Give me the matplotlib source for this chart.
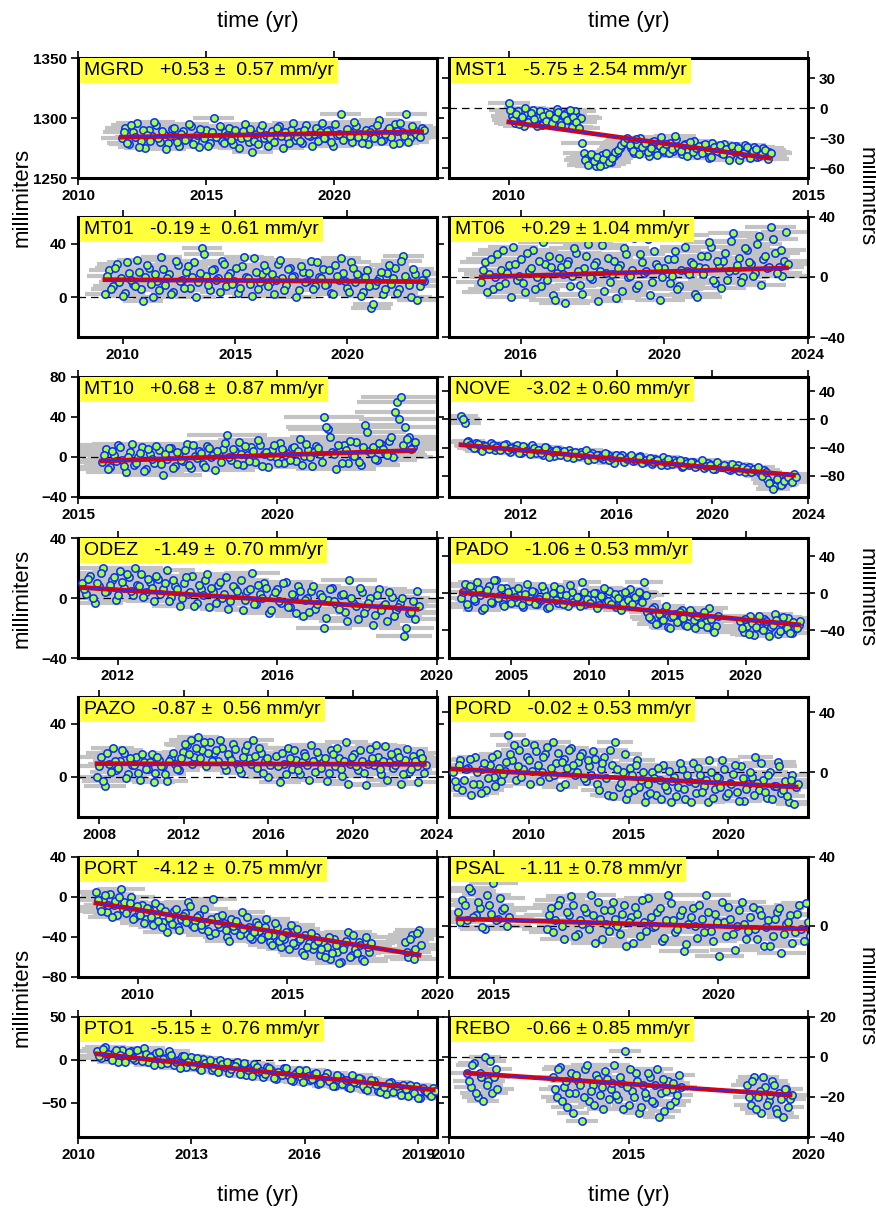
import numpy as np
import matplotlib.pyplot as plt

plt.rcParams['font.family'] = ['Liberation Sans', 'DejaVu Sans']
nan = np.nan

# station names, rates shown in the yellow boxes
stations = ['MGRD', 'MST1', 'MT01', 'MT06', 'MT10', 'NOVE', 'ODEZ',
            'PADO', 'PAZO', 'PORD', 'PORT', 'PSAL', 'PTO1', 'REBO']
rates = [0.53, -5.75, -0.19, 0.29, 0.68, -3.02, -1.49,
         -1.06, -0.87, -0.02, -4.12, -1.11, -5.15, -0.66]
rate_errs = [0.57, 2.54, 0.61, 1.04, 0.87, 0.60, 0.70,
             0.53, 0.56, 0.53, 0.75, 0.78, 0.76, 0.85]

# first / last epoch of each series (yr)
t_start = [2011.7, 2010.0, 2009.2, 2014.9, 2015.6, 2009.5, 2011.1,
           2001.8, 2007.9, 2006.2, 2008.6, 2014.2, 2010.5, 2010.5]
t_end = [2023.4, 2014.35, 2023.4, 2023.4, 2023.4, 2023.4, 2019.5,
         2023.4, 2023.4, 2023.4, 2019.4, 2022.0, 2019.4, 2019.5]
# fitted trend (mm) at first and last epoch
trend_start = [1284, -14, 13, 0, -4, -36, 7, 1, 10, 2, -6, 4, 7, -8]
trend_end = [1288.5, -50, 11.5, 6, 6.5, -79, -7.5, -34, 9.5, -10, -58, -2, -35, -19]
# half length of the grey time error bars (yr)
t_err = [0.8, 0.35, 0.9, 0.7, 1.0, 0.7, 0.7, 1.2, 1.0, 0.9, 0.8, 0.55, 0.55, 0.45]

# sampled positions (mm), two interleaved sets of epochs, nan = data gap
mgrd = [1283, 1292, 1278, 1288, 1296, 1281, 1275, 1290, 1285, 1294, 1280, 1287, 1279, 1291, 1284, 1277,
        1289, 1283, 1293, 1282, 1276, 1286, 1290, 1279, 1300, 1284, 1281, 1288, 1292, 1278, 1285, 1283,
        1295, 1280, 1272, 1287, 1291, 1283, 1277, 1289, 1286, 1293, 1275, 1284, 1290, 1282, 1288, 1279,
        1294, 1285, 1287, 1281, 1296, 1283, 1290, 1277, 1286, 1303, 1284, 1289, 1280, 1293, 1287, 1285,
        1278, 1291, 1286, 1298, 1282, 1289, 1284, 1295, 1279, 1288, 1303, 1283, 1290, 1286, 1292]
mgrd_b = [1288, 1279, 1294, 1284, 1276, 1290, 1286, 1281, 1297, 1283, 1289, 1274, 1285, 1292, 1280, 1287,
          1282, 1295, 1278, 1286, 1291, 1283, 1277, 1288, 1284, 1293, 1279, 1286, 1282, 1290, 1275, 1289,
          1284, 1291, 1281, 1278, 1294, 1286, 1283, 1280, 1292, 1285, 1288, 1279, 1296, 1284, 1281, 1290,
          1286, 1277, 1292, 1288, 1283, 1289, 1280, 1295, 1287, 1282, 1291, 1285, 1297, 1284, 1279, 1290,
          1288, 1283, 1294, 1281, 1287, 1292, 1278, 1289, 1296, 1285, 1280, 1293, 1287, 1284, 1290]
mst1 = [5, -8, -15, -3, -12, -18, -6, -10, -2, -14, -9, -17, -4, -11, -7, -16, -1, -13, -8, -5, -12, -19, -3, -9,
        -10, -45, -50, -55, -48, -58, -52, -47, -56, -50, -54, -48, -45, -40, -36, -33,
        -32, -40, -45, -36, -30, -42, -38, -48, -34, -41, -37, -29, -44, -39, -35, -43, -31, -40, -46, -36,
        -42, -38, -33, -47, -40, -37, -44, -50, -35, -41, -39, -45, -36, -43, -48, -40, -38, -52, -42, -37,
        -46, -41, -39, -49, -43, -40, -47, -44]
mst1_b = [-2, -12, -6, -16, -9, 0, -14, -5, -11, -18, -3, -8, -13, -6, -15, -10, -4, -17, -7, -12, -2, -9, -14, -20,
          -35, -52, -57, -46, -53, -49, -58, -51, -45, -54, -50, -44, -42, -37, -34, -30,
          -37, -43, -31, -46, -39, -35, -44, -40, -33, -47, -38, -42, -36, -45, -41, -28, -39, -43, -37, -48,
          -34, -44, -40, -38, -45, -36, -42, -49, -39, -43, -37, -46, -41, -52, -38, -44, -40, -47, -45, -39,
          -50, -43, -41, -48, -46, -42, -51, -45]
mt01 = [2, 20, 8, 25, 14, 3, 18, 10, 28, 6, 15, 22, 0, 12, 30, 9, 17, 4, 24, 13, 19, 7, 26, 11, 37, 16,
        5, 21, 14, 27, 8, 18, 12, 3, 23, 15, 10, 29, 6, 17, 20, 11, 2, 25, 14, 9, 22, 16, 5, 19, 12, 27,
        8, 15, 21, 10, 3, 24, 13, 18, 7, 26, 11, 16, 4, 20, -8, 9, 14, 2, 18, 10, 22, 6, 31, 13, 0, 17, 8, 12]
mt01_b = [16, 6, 22, 11, 1, 26, 13, 8, 19, -3, 24, 10, 17, 5, 21, 14, 2, 27, 12, 7,
          23, 15, 0, 18, 32, 9, 20, 13, 4, 25, 16, 10, 22, 7, 30, 14, 1, 19, 11, 24,
          8, 17, 13, 28, 5, 21, 15, 0, 23, 11, 18, 6, 26, 14, 9, 20, 2, 16, 29, 12,
          4, 22, 17, 1, 15, 8, -5, 12, 19, 6, 24, 14, 3, 27, 16, 9, 21, -2, 13, 18]
mt06 = [-3, 10, 2, -8, 15, 5, -4, 8, 20, -2, 12, -10, 4, 18, 0, -6, 9, 14, -12, 3, 7, -17, 11, 1, 16, -5,
        6, 22, -1, 10, 4, -9, 13, 2, -14, 8, 19, 0, 5, -7, 15, 3, 25, -3, 9, -15, 6, 12, 1, 17, -6, 28,
        4, 10, -11, 7, 2, 14, 20, -4, 8, 11, -2, 24, 5, 13, 0, 18, 9, 3, 27, 12, 6, 33, 16, 7, 1, 30]
mt06_b = [5, -10, 12, 0, -6, 18, 3, -13, 9, 1, -4, 16, 6, -8, 11, 23, -2, 7, -15, 13,
          2, 9, -6, 19, 4, -11, 14, 0, 8, -16, 21, 3, -3, 11, 6, -9, 15, 1, 26, -5,
          10, 4, -12, 17, 7, 0, 30, -4, 12, -8, 5, 20, 2, 9, -13, 14, 6, 23, -2, 11,
          -7, 16, 4, 29, 8, -3, 19, 10, 1, 22, -5, 14, 7, 25, 3, 18, 11, 9]
mt10 = [-5, 8, -10, 2, 12, -3, -15, 5, -8, 0, 10, -12, 3, -6, 7, -18, -2, 9, -9, 4, -4, 13, -11, 1, 6, -7,
        11, 0, -13, 5, 8, 22, -3, 6, 15, -8, 2, 10, -5, 12, 3, -10, 7, 0, 14, -6, 4, 9, -4, 18, 1, 7,
        -9, 11, 3, 40, 28, 5, -12, 8, 12, -6, 2, 15, -8, 32, 6, 10, -3, 13, 4, 16, 0, 55, 60, 30, 20, 10]
mt10_b = [2, -12, 6, -4, 10, -9, 0, 13, -6, 4, -14, 8, -2, 11, -7, 3, 9, -11, 5, -3,
          7, -8, 12, -1, 4, -10, 9, 2, 6, -5, 14, 0, 8, -7, 3, 11, -4, 6, 17, -9,
          5, 1, 12, -6, 8, 2, -3, 10, 6, -8, 13, 0, 5, 9, -5, 30, 20, 3, 12, -6,
          7, 16, 1, -5, 10, 25, 4, -2, 14, 8, 2, 20, 45, 38, 12, 18, 8, 15]
nove = [5, -5, -30, -38, -33, -42, -36, -40, -34, -44, -38, -41, -35, -46, -39, -37, -48, -42, -40, -36,
        -47, -43, -50, -41, -45, -52, -44, -47, -49, -43, -55, -48, -46, -51, -58, -47, -53, -50, -56, -49,
        -52, -62, -54, -51, -57, -53, -59, -55, -52, -60, -57, -63, -56, -59, -54, -65, -60, -58, -62, -67,
        -59, -64, -61, -66, -63, -69, -62, -65, -70, -64, -68, -66, -72, -69, -65, -71, -74, -68, -73, -70,
        -76, -72, -85, -90, -95, -88, -92, -80, -86, -78]
nove_b = [1, -32, -36, -40, -35, -45, -38, -42, -37, -39, -43, -36, -44, -40, -42, -47, -38, -45, -49, -41,
          -44, -48, -39, -53, -46, -43, -50, -45, -54, -48, -46, -52, -49, -44, -51, -56, -50, -54, -47, -58,
          -55, -51, -53, -60, -56, -50, -58, -54, -62, -57, -55, -61, -58, -64, -60, -56, -63, -61, -57, -66,
          -62, -60, -68, -63, -58, -66, -64, -70, -61, -67, -65, -71, -63, -69, -73, -67, -70, -75, -71, -68,
          -80, -74, -90, -98, -84, -93, -87, -82, -89, -81]
odez = [10, 3, 15, -3, 8, 20, 5, 12, -1, 18, 7, 14, 2, 9, 16, 4, 11, -2, 13, 6, 19, 1, 8, -5, 10, 3,
        15, -3, 6, 12, -6, 4, 9, 0, 14, -2, 7, 2, -8, 5, 17, -4, 3, 10, -10, 1, 6, -3, 11, -6, 2, 8,
        -12, 0, 5, -7, 3, -20, -1, 7, -4, 2, -9, 12, -3, -14, 4, -6, 0, -11, 6, -5, -15, 1, -8, -3, -25, -10, -2, 5]
odez_b = [6, 13, 0, 10, 17, 4, 9, 14, 2, 11, 16, 5, 20, 8, 1, 13, 7, 15, 3, 10,
          -2, 12, 6, 0, 14, 4, -5, 9, 2, 16, 7, -3, 11, 3, -7, 8, 5, 12, -1, 6,
          -4, 9, 0, 7, -8, 4, -2, 10, -6, 3, -10, 5, -1, -9, 8, -4, 1, -13, 6, -2,
          -7, 3, -15, 0, -5, 7, -10, -3, -18, 2, -8, -4, 4, -12, -6, 0, -20, -9, -14, -5]
pado = [-5, 10, -15, 2, -8, 5, -18, 0, 8, -10, 15, -3, -12, 6, -6,
        3, -9, -2, -15, 10, -5, 1, -12, -7, 4, -16, -3, 8, -10, -1, -6, -14, 2, -8, -4, 12, -11, -2, -7,
        0, -13, -5, -9, 3, -6, -15, -1, -10, -4, 5, -8, -3, 0, 12,
        -20, -28, -15, -32, -24, -19, -36, -26, -22, -30, -18, -34, -25, -21, -38, -27, -23, -31, -16, -40, -35,
        nan, nan, nan, nan, nan, nan,
        -30, -42, -35, -25, -45, -33, -38, -28, -41, -36, -22, -44, -32, -39, -27, -43, -37, -34]
pado_b = [2, -12, 8, -6, 12, -2, -16, 4, -9, 15, -5, 6, -14, 1, -10,
          -4, 6, -13, -1, -8, 3, -11, -6, 8, -3, -15, 0, -7, 5, -12, -2, 9, -9, -4, -14,
          2, -6, -10, 0, -16, -3, 6, -8, -12, -1, -5, -18, 2, -7, -11, -4, 1, -9, -2,
          -26, -17, -33, -22, -29, -14, -37, -24, -31, -20, -27, -35, -18, -29, -24, -33, -20, -36, -28, -42, -25,
          nan, nan, nan, nan, nan, nan,
          -38, -28, -44, -32, -36, -24, -40, -30, -46, -34, -29, -41, -26, -37, -43, -31, -38, -30]
pazo = [0, 15, -7, 10, 22, 5, 12, 18, 2, 9, 15, -2, 11, 6, 17, 3, 13, 8, -3, 14, 10, 5, 19, 24, 28, 15,
        30, 20, 8, 26, 18, 12, 22, 5, 16, 25, 10, 3, 20, 14, 28, 7, 18, 12, 0, nan, 16, -4, 10, 22, 6, 13,
        2, 18, 9, 24, 4, 15, 11, -3, 20, 8, 14, 1, 26, 10, 17, 5, 12, -6, 21, 9, 15, 2, 23, 11, 7, 19, -5,
        13, 4, 16, 8, 18, 3]
pazo_b = [8, -3, 18, 4, 12, 7, 20, -1, 14, 9, 3, 17, 6, 11, -4, 15, 8, 2, 12, 18,
          6, 14, 25, 17, 10, 22, 14, 26, 18, 12, 20, 28, 9, 17, 13, 21, 6, 15, 24, 10,
          16, 22, 3, 14, 9, nan, 8, 18, 2, 14, 20, 5, 11, 16, -2, 12, 19, 7, 14, 3,
          17, 22, 6, 12, -5, 15, 8, 20, 3, 10, 14, 24, 6, 12, -2, 17, 9, 15, 2, 21,
          6, 12, -4, 14, 9]
pord = [0, -10, 8, -5, 3, -15, 10, -8, 2, -12, 5, -3, 12, -6, 1,
        25, 8, -5, 15, 2, 10, -8, 18, 5, 0, 12, -3, 20, 6, -10, 9, 3, 16, -2, 7, 13, -6,
        4, 14, -8, 2, 10, -15, 5, 20, -10, 0, -18, 3, -12, 8, -5, -20,
        -8, 0, -15, -5, 5, -12, -20, -3, -10, 2, -18, -6, 6, -14, -2, -9, -20, 0, -11, -4, 8, -16, -7, -1,
        -13, 4, -19, -8, -3, 10, -12, -5, -17, 0, -9, 7, -14, -6, -20, -2, -10]
pord_b = [-6, 5, -12, 2, 9, -8, 0, -14, 6, -4, 10, -9, 3, -1, 7,
          12, 18, 4, -3, 20, 8, 1, 14, -6, 10, 17, 3, -2, 13, 7, -8, 15, 5, 0, 11, -4, 8,
          -2, 9, -12, 6, -4, 15, -16, 2, -7, 12, -14, -2, 5, -10, 0, -15,
          -14, -4, 3, -18, -9, 1, -6, -16, 6, -11, -2, -20, -7, 3, -13, -5, 8, -17, -3, -10,
          2, -14, -8, 5, -19, -4, -11, 0, -15, -7, 6, -13, -2, -18, -9, 4, -12, -16, -5, -21, -8]
port = [5, -10, -2, -15, 3, -8, -18, 8, -5, -12, 0, -20,
        -15, -8, -22, -12, -28, -18, -10, -25, -35, -20, -14, -30, -22, -16, -5, -28, -24,
        -18, -32, -25, -38, -2, -20, -30, -26, -40, -22, -33, -28, -15, -36, -30, -42, -25,
        -34, -40, -22, -45, -38, -30, -50, -42, -36, -28, -48, -44, -55, -38, -46, -52, -40,
        -58, -45, -50, -62, -42, -55, -65, -48, -35, -58, -52, -45, -62, -40, -55,
        nan, nan, nan, nan, nan, nan, nan, nan, nan,
        -45, -60, -38, -52, -33]
port_b = [-3, -14, 2, -8, -20, -4, 0, -12, -16, -6, -22, -9,
          -18, -26, -11, -20, -6, -24, -30, -14, -21, -27, -12, -33, -19, -25, -9, -30, -20,
          -28, -12, -34, -22, -36, -27, -18, -33, -44, -29, -24, -38, -32, -20, -40, -35, -28,
          -42, -30, -38, -48, -26, -44, -40, -35, -52, -46, -32, -42, -58, -50, -36, -48, -44,
          -52, -60, -40, -56, -48, -66, -52, -44, -60, -38, -56, -48, -64, -50, -46,
          nan, nan, nan, nan, nan, nan, nan, nan, nan,
          -55, -42, -62, -36, -48]
psal = [8, 15, 3, 20, 6, 10, -2, 12, 25, 4, 9, 0,
        nan, nan, nan, nan, nan, nan, nan, nan,
        -2, 10, 3, 15, -8, 6, 12, -5, 1, 8, 18, -10, 4, 9, -3, 14, 0, 7, -12, 5, 11, -6, 2, 16, -1, 8,
        -9, 3, 13, -4, 6, -15, 1, 10, -7, 4, 18, -3, 7, -18, 2, 11, -5, 0, 14, -8, 5, -2, 9, -12, 3, -6,
        8, -16, 1, 6, -4, 12, -9, 2]
psal_b = [2, 12, 22, 5, 14, -1, 18, 7, 3, 16, 10, 5,
          nan, nan, nan, nan, nan, nan, nan, nan,
          6, -4, 12, 0, 8, 17, -6, 3, 10, -2, 6, 14, -8, 1, 9, 4, -5, 12, 2, -10,
          7, 15, -3, 5, 0, 10, -7, 18, 3, -2, 9, -11, 5, 0, 12, -4, 8, -9, 2, 14,
          -6, 4, -14, 9, 1, -3, 11, -8, 6, -1, -12, 4, 10, -5, 2, -10, 7, -2, 13, -6]
pto1 = [10, 2, 15, 5, 8, -2, 12, 4, 10, 0, 6, 14, -3, 5, 8, -5, 2, 10, -6, 0, 4, -8, 3, -2, -10, 1,
        -5, -12, -3, 0, -8, -15, -6, -2, -11, -18, -9, -5, -14, -20, -8, -12, -22, -15, -10, -18, -25, -14,
        -20, -12, -24, -17, -28, -21, -15, -26, -30, -20, -24, -32, -18, -27, -22, -34, -28, -25, -36, -30,
        -40, -26, -33, -38, -29, -42, -35, -31, -45, -36, -40, -33]
pto1_b = [4, 13, 7, 0, 11, 6, -3, 9, 2, 12, -1, 7, 3, -6, 9, 1, -4, 6, -2, -9,
          5, -3, -7, 2, -12, -4, 0, -9, -14, -5, -2, -11, -7, -16, -4, -12, -19, -8, -13, -17,
          -10, -21, -14, -18, -9, -23, -16, -12, -26, -19, -22, -15, -27, -20, -25, -31, -18, -28, -23, -33,
          -26, -21, -30, -35, -24, -29, -38, -32, -27, -37, -31, -41, -34, -29, -39, -44, -33, -38, -42, -36]
rebo = [-8, -15, -3, -20, -10, 0, -12, -18, -6,
        nan, nan, nan, nan, nan, nan, nan, nan, nan, nan, nan, nan, nan, nan, nan,
        -10, -20, -5, -15, -25, -8, -18, -12, -32, -6, -22, -14, -9, -19, -26, -11, -16, -4, -21, -13, 3,
        -24, -17, -8, -28, -14, -20, -10, -23, -6, -18, -27, -12, -16, -22, -9,
        nan, nan, nan, nan, nan, nan, nan, nan, nan, nan, nan, nan, nan, nan, nan, nan, nan, nan,
        -14, -24, -10, -20, -28, -15, -22, -12, -26, -18, -30, -16, -21]
rebo_b = [-12, -4, -18, -8, -22, -14, -2, -10, -16,
          nan, nan, nan, nan, nan, nan, nan, nan, nan, nan, nan, nan, nan, nan, nan,
          -16, -6, -22, -12, -18, -28, -9, -14, -20, -4, -17, -24, -11, -15, -7, -21, -13, -19, -10, -26,
          -15, -6, -20, -12, -25, -18, -8, -22, -14, -30, -11, -17, -24, -13, -19, -15,
          nan, nan, nan, nan, nan, nan, nan, nan, nan, nan, nan, nan, nan, nan, nan, nan, nan, nan,
          -20, -12, -26, -17, -10, -24, -19, -14, -28, -21, -16, -25, -19]

series = [mgrd, mst1, mt01, mt06, mt10, nove, odez, pado, pazo, pord, port, psal, pto1, rebo]
series_b = [mgrd_b, mst1_b, mt01_b, mt06_b, mt10_b, nove_b, odez_b, pado_b, pazo_b, pord_b,
            port_b, psal_b, pto1_b, rebo_b]

# axis ranges and ticks
xlims = [(2010, 2024), (2009, 2015), (2008, 2024), (2014, 2024), (2015, 2024), (2009, 2024), (2011, 2020),
         (2001, 2024), (2007, 2024), (2006, 2024), (2008, 2020), (2014, 2022), (2010, 2019.5), (2010, 2020)]
xticks = [[2010, 2015, 2020], [2010, 2015], [2010, 2015, 2020], [2016, 2020, 2024], [2015, 2020],
          [2012, 2016, 2020, 2024], [2012, 2016, 2020], [2005, 2010, 2015, 2020],
          [2008, 2012, 2016, 2020, 2024], [2010, 2015, 2020], [2010, 2015, 2020], [2015, 2020],
          [2010, 2013, 2016, 2019], [2010, 2015, 2020]]
ylims = [(1250, 1350), (-70, 50), (-30, 60), (-40, 40), (-40, 80), (-110, 60), (-40, 40),
         (-70, 60), (-30, 60), (-30, 50), (-80, 40), (-30, 40), (-90, 50), (-40, 20)]
yticks = [[1250, 1300, 1350], [-60, -30, 0, 30], [0, 40], [-40, 0, 40], [-40, 0, 40, 80],
          [-80, -40, 0, 40], [-40, 0, 40], [-40, 0, 40], [0, 40], [0, 40], [-80, -40, 0, 40],
          [0, 40], [-50, 0, 50], [-40, -20, 0, 20]]

W, H = 876, 1209
fig = plt.figure(figsize=(W / 100, H / 100), dpi=100)
col_x = [78, 449]
row_y = [58, 217, 377, 538, 697, 857, 1017]
pw, ph = 359, 120

for i, name in enumerate(stations):
    r, c = divmod(i, 2)
    ax = fig.add_axes([col_x[c] / W, 1 - (row_y[r] + ph) / H, pw / W, ph / H])
    va = np.array(series[i], dtype=float)
    vb = np.array(series_b[i], dtype=float)
    ta = np.linspace(t_start[i], t_end[i], len(va))
    tb = np.linspace(t_start[i], t_end[i], len(vb)) + (t_end[i] - t_start[i]) / (len(vb) - 1) / 2
    t = np.concatenate([ta, tb])
    v = np.concatenate([va, vb])
    ok = ~np.isnan(v)
    ax.errorbar(t[ok], v[ok], xerr=t_err[i], fmt='none', ecolor='#c3c3c3',
                elinewidth=3.0, zorder=1)
    ax.axhline(0, color='black', lw=0.9, ls=(0, (6, 4)), zorder=2)
    ax.plot(t[ok], v[ok], 'o', ms=5.3, mfc='#9dff3c', mec='#0a28ff', mew=1.1, zorder=3)
    ax.plot([t_start[i], t_end[i]], [trend_start[i], trend_end[i]], color='#e00000', lw=3.4, zorder=4)
    ax.plot([t_start[i], t_end[i]], [trend_start[i], trend_end[i]], color='#2030ff', lw=0.9, zorder=5)

    ax.set_xlim(*xlims[i])
    ax.set_ylim(*ylims[i])
    ax.set_xticks(xticks[i])
    ax.set_yticks(yticks[i])
    ax.tick_params(direction='out', length=5, width=1.2, top=True, right=True, labelsize=11, pad=3)
    if c == 1:
        ax.yaxis.tick_right()
        ax.yaxis.set_ticks_position('both')
        ax.tick_params(labelleft=False, labelright=True)
    for lab in ax.get_xticklabels() + ax.get_yticklabels():
        lab.set_fontweight('bold')
    for sp in ax.spines.values():
        sp.set_linewidth(2.2)

    gap = '  ' if c == 0 else ' '
    label = f"{name}   {rates[i]:+.2f} \u00b1{gap}{rate_errs[i]:.2f} mm/yr"
    ax.text(6 / pw, 1 - 4 / ph, label, transform=ax.transAxes, fontsize=14, va='top', ha='left',
            zorder=6, bbox=dict(boxstyle='square,pad=0.2', fc='#ffff3c', ec='none'))

# axis titles
for cx in [(78 + 437) / 2, (449 + 808) / 2]:
    fig.text(cx / W, 1 - 22 / H, 'time (yr)', ha='center', va='center', fontsize=16)
    fig.text(cx / W, 1 - 1196 / H, 'time (yr)', ha='center', va='center', fontsize=16)
for cy in [197, 598, 997]:
    fig.text(22 / W, 1 - cy / H, 'millimiters', rotation=90, ha='center', va='center', fontsize=16)
    fig.text(866 / W, 1 - cy / H, 'millimiters', rotation=-90, ha='center', va='center', fontsize=16)

fig.savefig('out.png', dpi=100)
